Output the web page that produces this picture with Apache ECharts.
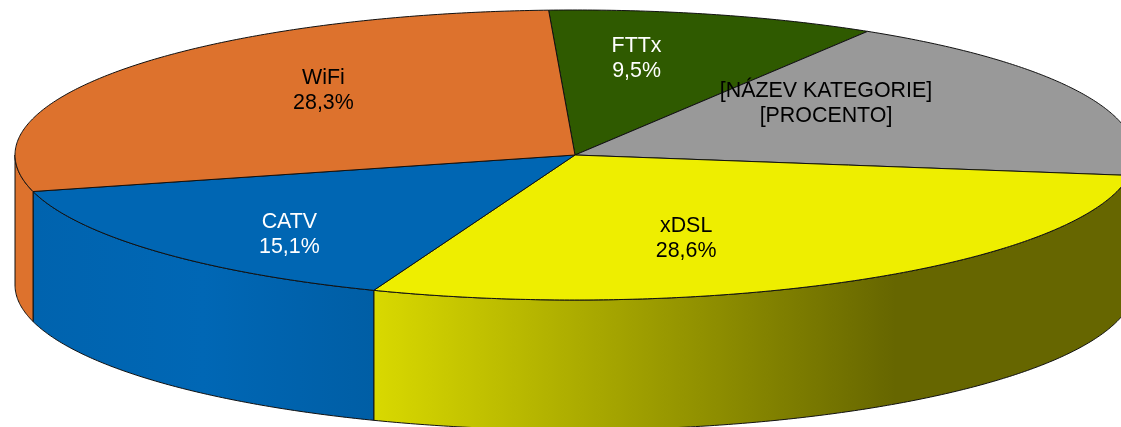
<!DOCTYPE html>
<html>
<head>
<meta charset="utf-8">
<style>
  html, body { margin: 0; padding: 0; background: #fff; }
  #chart { width: 1121px; height: 427px; }
</style>
<script src="https://cdn.jsdelivr.net/npm/echarts@6/dist/echarts.min.js"></script>
</head>
<body>
<div id="chart"></div>
<script>
// slices go clockwise from the top
const categories = ['FTTx', '[NÁZEV KATEGORIE]', 'xDSL', 'CATV', 'WiFi']
const shares = [9.5, 18.5, 28.6, 15.1, 28.3]
const shareLabels = ['9,5%', '[PROCENTO]', '28,6%', '15,1%', '28,3%']

const topColors = ['#2f5a00', '#999999', '#eeee00', '#0066b3', '#dd722d']
const labelColors = ['#fff', '#000', '#000', '#fff', '#000']
// manual label placement, px away from the default spot
const labelShift = [[-22, -12], [-53, -14], [-59, 9], [-35, 22], [19, -13]]

const sideColors = [
  [[0, '#2f5a00'], [1, '#2f5a00']],
  [[0, '#808080'], [1, '#808080']],
  [[0, '#d9d900'], [0.69, '#666600'], [1, '#666600']],
  [[0, '#0063ae'], [0.5, '#0067b5'], [1, '#005ea5']],
  [[0, '#dd722d'], [1, '#dd722d']]
]

// ellipse of the tilted pie
const cx = 575
const cy = 155
const rx = 560
const ry = 145
const depth = 130
const startAngle = -2.7
const lineStyle = { stroke: '#111', lineWidth: 1 }

const total = shares.reduce((a, b) => a + b, 0)

function sliceRange(index) {
  let sum = 0
  for (let i = 0; i < index; i++) sum += shares[i]
  const from = startAngle + sum / total * 360
  return [from, from + shares[index] / total * 360]
}

function rim(deg, offset = 0, scale = 1) {
  const rad = deg * Math.PI / 180
  return [cx + rx * scale * Math.sin(rad), cy + offset - ry * scale * Math.cos(rad)]
}

function arc(from, to, offset = 0) {
  const pts = []
  const n = Math.max(2, Math.ceil((to - from) * 2))
  for (let i = 0; i <= n; i++) pts.push(rim(from + (to - from) * i / n, offset))
  return pts
}

function renderSide(params, api) {
  const i = api.value(0)
  const [a, b] = sliceRange(i)
  // only the front half of the wall can be seen
  const from = Math.max(a, 90)
  const to = Math.min(b, 270)
  if (to <= from) return { type: 'group', children: [] }
  const points = arc(from, to).concat(arc(from, to, depth).reverse())
  return {
    type: 'polygon',
    shape: { points },
    style: {
      fill: {
        type: 'linear', x: 0, y: 0, x2: 1, y2: 0,
        colorStops: sideColors[i].map(s => ({ offset: s[0], color: s[1] }))
      },
      ...lineStyle
    }
  }
}

function renderTop(params, api) {
  const i = api.value(0)
  const [a, b] = sliceRange(i)
  return {
    type: 'polygon',
    shape: { points: [[cx, cy]].concat(arc(a, b)) },
    style: { fill: topColors[i], ...lineStyle }
  }
}

function renderLabel(params, api) {
  const i = api.value(0)
  const [a, b] = sliceRange(i)
  const pos = rim((a + b) / 2, 0, 0.6)
  return {
    type: 'text',
    x: pos[0] + labelShift[i][0],
    y: pos[1] + labelShift[i][1],
    style: {
      text: categories[i] + '\n' + shareLabels[i],
      fill: labelColors[i],
      font: '21.4px "Liberation Sans", Arial, sans-serif',
      lineHeight: 25,
      align: 'center',
      verticalAlign: 'middle'
    }
  }
}

const seriesData = categories.map((name, i) => [i, shares[i]])

const myChart = echarts.init(document.getElementById('chart'), null, { renderer: 'canvas' })
myChart.setOption({
  animation: false,
  backgroundColor: '#fff',
  series: [
    { type: 'custom', coordinateSystem: 'none', z: 1, silent: true, renderItem: renderSide, data: seriesData },
    { type: 'custom', coordinateSystem: 'none', z: 2, silent: true, renderItem: renderTop, data: seriesData },
    { type: 'custom', coordinateSystem: 'none', z: 3, silent: true, renderItem: renderLabel, data: seriesData }
  ]
})
</script>
</body>
</html>
